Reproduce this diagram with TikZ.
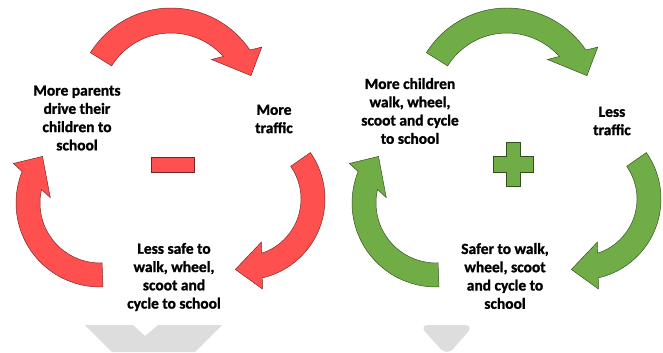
\documentclass[tikz,border=0pt]{standalone}
\usepackage{fontspec}
\setmainfont{Carlito}[BoldFeatures={FakeBold=1.3}]
\usetikzlibrary{calc}
\definecolor{loopred}{RGB}{255,80,80}
\definecolor{loopgreen}{RGB}{112,173,71}
\definecolor{loopgrey}{RGB}{221,221,221}

\tikzset{
  redarrow/.style={fill=loopred, draw=loopred!45!black, line width=0.4pt},
  greenarrow/.style={fill=loopgreen, draw=loopgreen!45!black, line width=0.4pt},
  looptext/.style={align=center, inner sep=0pt,
    font=\fontsize{13.2}{15.6}\selectfont\bfseries}
}

% curved arrow: style, centre, inner r, outer r, start, inner end, outer end, tip
\newcommand{\cyclearrow}[8]{%
  \begin{scope}[shift={(#2)}]
    \coordinate (ni) at (#6:#3);
    \coordinate (no) at (#7:#4);
    \filldraw[#1] (#5:#4) arc[start angle=#5, end angle=#7, radius=#4]
      -- ($(no)!-0.45!(ni)$) -- (#8:{(#3+#4)/2+2}) -- ($(ni)!-0.45!(no)$)
      -- (ni) arc[start angle=#6, end angle=#5, radius=#3] -- cycle;
  \end{scope}}

\begin{document}
\begin{tikzpicture}[x=0.03cm, y=0.03cm]
    \useasboundingbox (0,0) rectangle (663,352);
    \clip (0,0) rectangle (663,352);

    % vicious circle
    \cyclearrow{redarrow}{171,249}{70}{95}{148}{41.6}{33.9}{18.9}
    \cyclearrow{redarrow}{244,153}{57}{81}{35}{-72}{-77}{-97}
    \cyclearrow{redarrow}{100,149}{60}{84}{-88}{-193}{-202}{-219}
    \filldraw[redarrow] (151,180) rectangle (194,195);

    \node[looptext] (parents) at (77,234) {More parents\\drive their\\children to\\school};
    \node[looptext] (moretraffic) at (274,233) {More\\traffic};
    \node[looptext] (lesssafe) at (174,75) {Less safe to\\walk, wheel,\\scoot and\\cycle to school};

    % virtuous circle
    \cyclearrow{greenarrow}{507,249}{70}{95}{148}{41.6}{33.9}{18.9}
    \cyclearrow{greenarrow}{580,153}{57}{81}{35}{-72}{-77}{-97}
    \cyclearrow{greenarrow}{436,149}{60}{84}{-88}{-193}{-202}{-219}
    \filldraw[greenarrow] (506,210) -- (520,210) -- (520,196) -- (533,196) -- (533,180)
      -- (520,180) -- (520,166) -- (506,166) -- (506,180) -- (493,180) -- (493,196)
      -- (506,196) -- cycle;

    \node[looptext] (children) at (410,241) {More children\\walk, wheel,\\scoot and cycle\\to school};
    \node[looptext] (lesstraffic) at (612,231) {Less\\traffic};
    \node[looptext] (safer) at (505,76) {Safer to walk,\\wheel, scoot\\and cycle to\\school};

    % grey shapes at the foot
    \fill[loopgrey] (85,27) -- (133,27) -- (145,16) -- (158,27) -- (222,27)
      -- (195,0) -- (112,0) -- cycle;
    \fill[loopgrey, rounded corners=8] (419,27) -- (474,27) -- (447,-4) -- cycle;
\end{tikzpicture}
\end{document}
